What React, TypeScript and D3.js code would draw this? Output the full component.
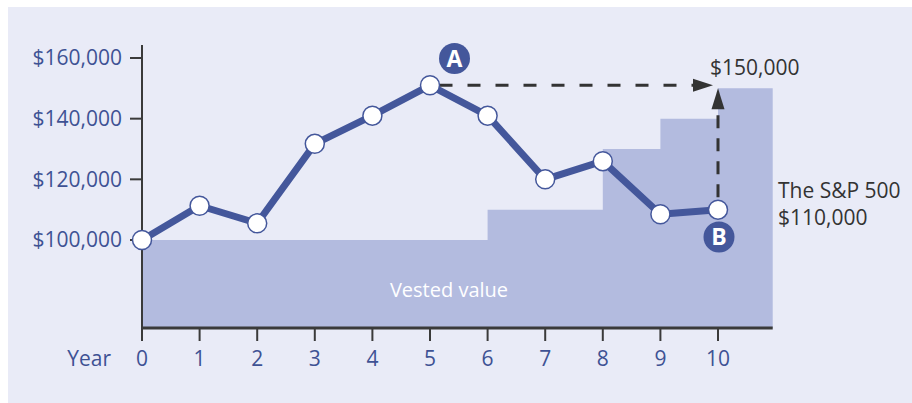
import React from "react";
import * as d3 from "d3";

// Account value (S&P 500 path) by year
const years = [0, 1, 2, 3, 4, 5, 6, 7, 8, 9, 10];
const accountValues = [100000, 111300, 105500, 131700, 141000, 151000, 141000, 120000, 126000, 108500, 110000];

// Vested value steps: each step starts at the given year
const vestYears = [0, 6, 8, 9, 10];
const vestValues = [100000, 110000, 130000, 140000, 150000];
const vestEndYear = 10.95;

const yTicks = [100000, 120000, 140000, 160000];
const xTicks = [0, 1, 2, 3, 4, 5, 6, 7, 8, 9, 10];

const peakLabel = "$150,000";
const sp500Label = ["The S&P 500", "$110,000"];

const W = 912;
const H = 403;
const FONT = "'Open Sans', sans-serif";
const BLUE = "#44579b";
const AXIS_TEXT = "#3e5294";
const DARK = "#333333";
const AREA = "#b3bbdf";
const BG = "#e9ebf7";

export default function App() {
  const x = d3.scaleLinear().domain([0, 10]).range([142, 718]);
  const y = d3.scaleLinear().domain([100000, 160000]).range([240, 58]);
  const baseY = 328;
  const axisTop = 45;

  const stepData: [number, number][] = vestYears.map((yr, i) => [yr, vestValues[i]]);
  stepData.push([vestEndYear, vestValues[vestValues.length - 1]]);
  const area = d3
    .area<[number, number]>()
    .x((d) => x(d[0]))
    .y0(baseY)
    .y1((d) => y(d[1]))
    .curve(d3.curveStepAfter);

  const line = d3
    .line<number>()
    .x((_, i) => x(years[i]))
    .y((d) => y(d));

  const peakIdx = accountValues.indexOf(d3.max(accountValues) as number);
  const peakX = x(years[peakIdx]);
  const peakY = y(accountValues[peakIdx]);
  const lastX = x(years[years.length - 1]);
  const lastY = y(accountValues[accountValues.length - 1]);
  const r = 9.5;

  return (
    <svg
      width={W}
      height={H}
      style={{ position: "fixed", left: 0, top: 0 }}
      fontFamily={FONT}
    >
      <rect x={8} y={7} width={W - 8} height={H - 7} fill={BG} />

      {/* vested value steps */}
      <path d={area(stepData) || ""} fill={AREA} />
      <text x={449} y={297} textAnchor="middle" fill="#ffffff" fontSize={20}>
        Vested value
      </text>

      {/* y axis */}
      <line x1={x(0)} x2={x(0)} y1={axisTop} y2={baseY} stroke="#3a3a3a" strokeWidth={2} />
      {yTicks.map((t) => (
        <g key={t}>
          <line x1={130} x2={x(0)} y1={y(t)} y2={y(t)} stroke="#3a3a3a" strokeWidth={2} />
          <text x={122} y={y(t)} dy="0.357em" textAnchor="end" fontSize={21} fill={AXIS_TEXT}>
            {d3.format("$,")(t)}
          </text>
        </g>
      ))}

      {/* x axis */}
      <line x1={x(0) - 1} x2={x(vestEndYear)} y1={baseY} y2={baseY} stroke="#3a3a3a" strokeWidth={3} />
      {xTicks.map((t) => (
        <g key={t}>
          <line x1={x(t)} x2={x(t)} y1={baseY} y2={341} stroke="#3a3a3a" strokeWidth={2} />
          <text x={x(t)} y={366} textAnchor="middle" fontSize={21} fill={AXIS_TEXT}>
            {t}
          </text>
        </g>
      ))}
      <text x={111} y={366} textAnchor="end" fontSize={21} fill={AXIS_TEXT}>
        Year
      </text>

      {/* dashed arrows */}
      <line
        x1={peakX + r}
        x2={lastX - 24}
        y1={peakY}
        y2={peakY}
        stroke={DARK}
        strokeWidth={3}
        strokeDasharray="13 15"
      />
      <path
        d={`M${lastX - 5},${peakY} L${lastX - 25},${peakY - 6.5} L${lastX - 25},${peakY + 6.5} Z`}
        fill={DARK}
      />
      <line
        x1={lastX}
        x2={lastX}
        y1={lastY - r - 3}
        y2={y(vestValues[vestValues.length - 1]) + 20}
        stroke={DARK}
        strokeWidth={3}
        strokeDasharray="13 10"
      />
      <path
        d={`M${lastX},${y(vestValues[vestValues.length - 1])} L${lastX - 6.5},${
          y(vestValues[vestValues.length - 1]) + 21
        } L${lastX + 6.5},${y(vestValues[vestValues.length - 1]) + 21} Z`}
        fill={DARK}
      />

      {/* account value line */}
      <path d={line(accountValues) || ""} fill="none" stroke={BLUE} strokeWidth={7} strokeLinejoin="round" />
      {accountValues.map((v, i) => (
        <circle key={i} cx={x(years[i])} cy={y(v)} r={r} fill="#ffffff" stroke={BLUE} strokeWidth={1.5} />
      ))}

      {/* badges */}
      <circle cx={peakX + 24.5} cy={58.5} r={15.5} fill={BLUE} />
      <text x={peakX + 24.5} y={58.5} dy="0.36em" textAnchor="middle" fontSize={23} fontWeight={700} fill="#ffffff">
        A
      </text>
      <circle cx={lastX + 1} cy={237} r={15.5} fill={BLUE} />
      <text x={lastX + 1} y={237} dy="0.36em" textAnchor="middle" fontSize={23} fontWeight={700} fill="#ffffff">
        B
      </text>

      {/* annotations */}
      <text x={710} y={75} fontSize={21} fill={DARK}>
        {peakLabel}
      </text>
      <text x={778} y={198} fontSize={21} fill={DARK}>
        {sp500Label[0]}
      </text>
      <text x={778} y={225} fontSize={21} fill={DARK}>
        {sp500Label[1]}
      </text>
    </svg>
  );
}
